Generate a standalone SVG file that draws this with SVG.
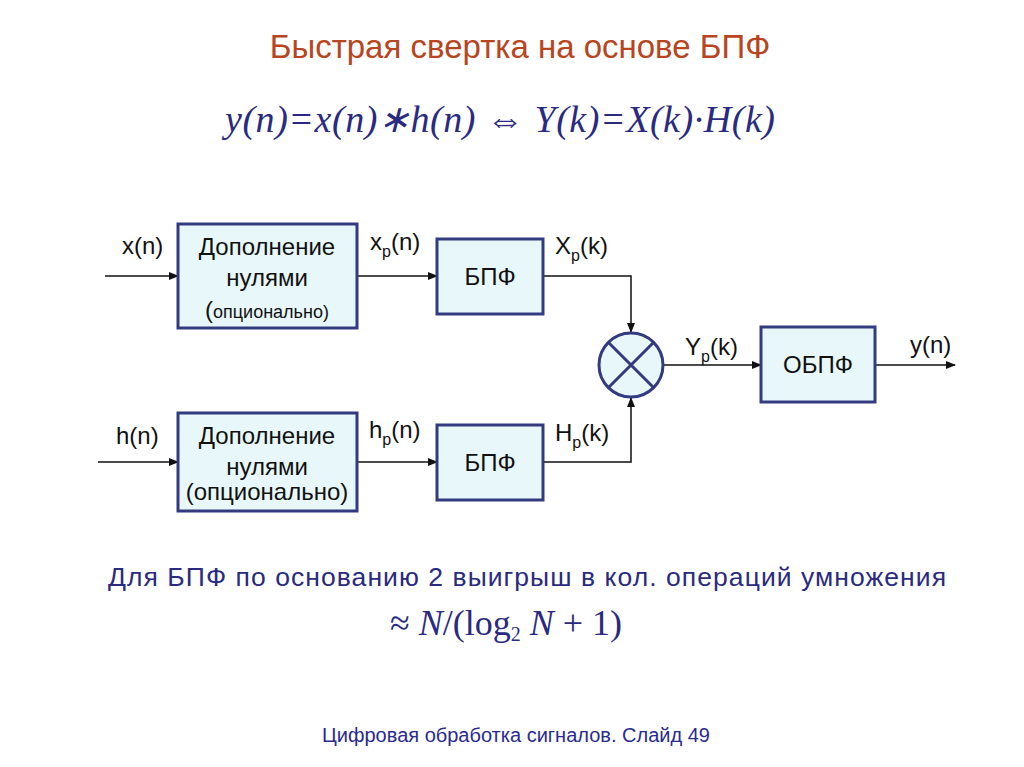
<svg xmlns="http://www.w3.org/2000/svg" width="1024" height="767" viewBox="0 0 1024 767">
<style>
.box{fill:#e8f8fa;stroke:#333a80;stroke-width:3}
.t{font-family:"Liberation Sans",Arial,sans-serif;font-size:24px;fill:#111}
.s{font-size:16px}
.m{font-family:"Liberation Serif","Times New Roman",serif;font-style:italic;fill:#2a2a80;font-size:38px}
.c{fill:none;stroke:#111;stroke-width:1.5}
</style>
<defs><marker id="a" markerWidth="10" markerHeight="8" refX="9" refY="4" orient="auto" markerUnits="userSpaceOnUse"><path d="M0,0L10,4L0,8Z" fill="#111"/></marker></defs>
<rect width="1024" height="767" fill="#fff"/>
<text x="520" y="58" text-anchor="middle" font-family="Liberation Sans,Arial,sans-serif" font-size="33" fill="#b84420">Быстрая свертка на основе БПФ</text>
<text class="m" x="225" y="132" textLength="550" lengthAdjust="spacing">y(n)=x(n)∗h(n)  ⇔  Y(k)=X(k)·H(k)</text>
<g id="connectors">
<path class="c" d="M105,276H178" marker-end="url(#a)"/>
<path class="c" d="M98,462H178" marker-end="url(#a)"/>
<path class="c" d="M357,276H437" marker-end="url(#a)"/>
<path class="c" d="M357,462H437" marker-end="url(#a)"/>
<path class="c" d="M543,276H631V332" marker-end="url(#a)"/>
<path class="c" d="M543,462H631V398" marker-end="url(#a)"/>
<path class="c" d="M664,365H761" marker-end="url(#a)"/>
<path class="c" d="M875,365H955" marker-end="url(#a)"/>
</g>
<g class="t">
<text x="122" y="254">x(n)</text>
<text x="116" y="444">h(n)</text>
<text x="370" y="250">x<tspan class="s" dy="7">p</tspan><tspan dy="-7">(n)</tspan></text>
<text x="369" y="438">h<tspan class="s" dy="7">p</tspan><tspan dy="-7">(n)</tspan></text>
<text x="555" y="254">X<tspan class="s" dy="7">p</tspan><tspan dy="-7">(k)</tspan></text>
<text x="555" y="441">H<tspan class="s" dy="7">p</tspan><tspan dy="-7">(k)</tspan></text>
<text x="685" y="355">Y<tspan class="s" dy="7">p</tspan><tspan dy="-7">(k)</tspan></text>
<text x="910" y="353">y(n)</text>
</g>
<g id="pad1"><rect class="box" x="178" y="224" width="179" height="104"/>
<text class="t" x="267" y="255" text-anchor="middle">Дополнение</text><text class="t" x="267" y="286" text-anchor="middle">нулями</text>
<text class="t" x="267" y="318" text-anchor="middle"><tspan font-size="24">(</tspan><tspan font-size="18">опционально)</tspan></text></g>
<g id="pad2"><rect class="box" x="178" y="413" width="179" height="98"/>
<text class="t" x="267" y="444" text-anchor="middle">Дополнение</text><text class="t" x="267" y="475" text-anchor="middle">нулями</text>
<text class="t" x="267" y="500" text-anchor="middle" font-size="18">(опционально)</text></g>
<g id="fft1"><rect class="box" x="437" y="239" width="106" height="75"/><text class="t" x="490" y="285" text-anchor="middle">БПФ</text></g>
<g id="fft2"><rect class="box" x="437" y="425" width="106" height="75"/><text class="t" x="490" y="471" text-anchor="middle">БПФ</text></g>
<g id="mult"><circle class="box" cx="631" cy="365" r="32"/><path d="M608,342L654,388M654,342L608,388" stroke="#333a80" stroke-width="3"/></g>
<g id="ifft"><rect class="box" x="761" y="327" width="114" height="75"/><text class="t" x="818" y="373" text-anchor="middle">ОБПФ</text></g>
<text x="527" y="586" text-anchor="middle" font-family="Liberation Sans,Arial,sans-serif" font-size="26.5" fill="#2a2a80" textLength="838" lengthAdjust="spacing">Для БПФ по основанию 2 выигрыш в кол. операций умножения</text>
<text x="390" y="635" font-family="Liberation Serif,serif" font-size="36" fill="#2a2a80">≈ <tspan font-style="italic">N</tspan>/(log<tspan font-size="20" dy="6">2</tspan><tspan dy="-6"> </tspan><tspan font-style="italic">N</tspan> + 1)</text>
<text x="516" y="742" text-anchor="middle" font-family="Liberation Sans,Arial,sans-serif" font-size="20" fill="#2a2a90">Цифровая обработка сигналов.  Слайд  49</text>
</svg>
